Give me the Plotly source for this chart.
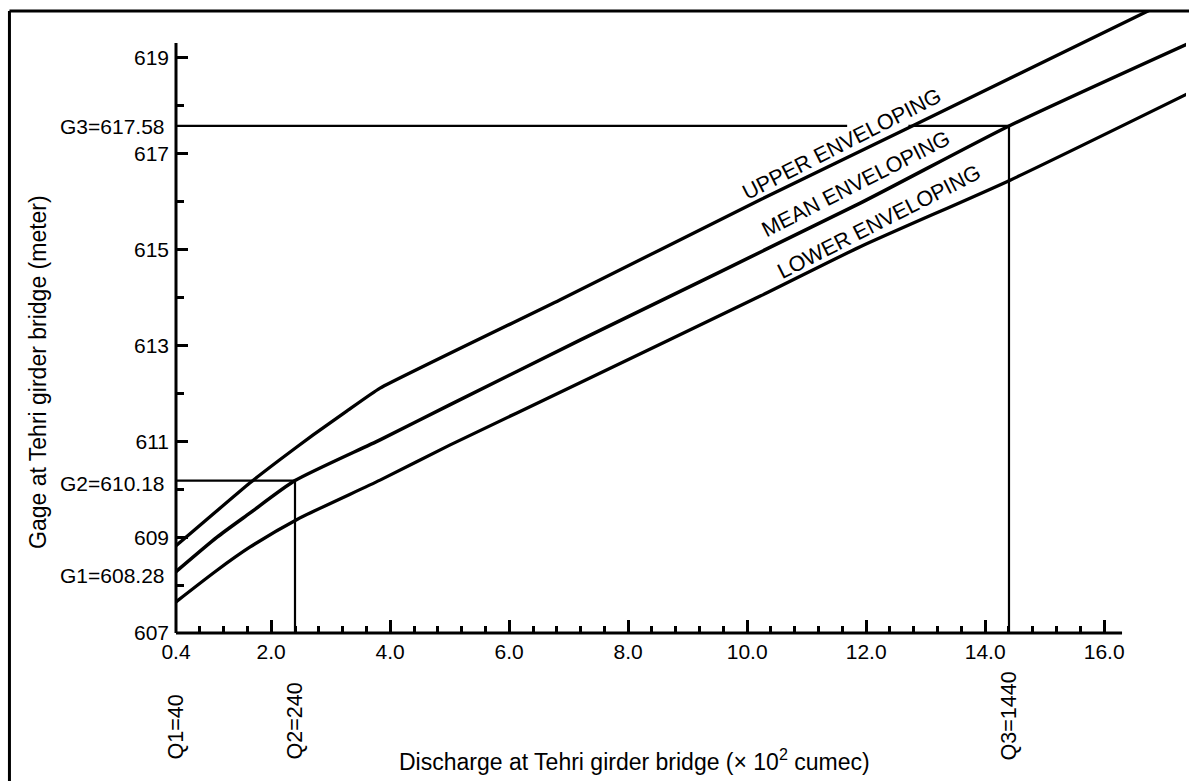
import numpy as np
import plotly.graph_objects as go

# ---- data (discharge in x10^2 cumec, gage in metres) ----
upper_q = [0.40, 1.64, 2.15, 2.70, 3.27, 3.83, 6.85, 10.22, 12.74, 16.77]
upper_g = [608.82, 610.13, 610.62, 611.13, 611.63, 612.11, 613.95, 616.04, 617.56, 620.00]

mean_q = [0.40, 1.09, 1.64, 2.40, 3.83, 5.00, 7.19, 11.90, 14.40, 17.43]
mean_g = [608.28, 609.00, 609.50, 610.18, 611.03, 611.76, 613.11, 615.97, 617.58, 619.31]

lower_q = [0.40, 1.09, 1.64, 2.45, 3.83, 5.00, 7.19, 10.22, 11.90, 14.42, 17.43]
lower_g = [607.65, 608.31, 608.79, 609.38, 610.19, 610.92, 612.22, 614.03, 615.06, 616.45, 618.27]

q_marks = [0.4, 2.4, 14.4]
q_labels = ["Q1=40", "Q2=240", "Q3=1440"]
g_marks = [608.28, 610.18, 617.58]
g_labels = ["G1=608.28", "G2=610.18", "G3=617.58"]
g3_gap = [11.68, 12.71]          # break in the G3 guide (label passes through)

x_tickvals = [0.4, 2, 4, 6, 8, 10, 12, 14, 16]
x_ticktext = ["0.4", "2.0", "4.0", "6.0", "8.0", "10.0", "12.0", "14.0", "16.0"]
x_minor = [v for v in np.round(np.arange(0.8, 16.0, 0.4), 1) if v not in x_tickvals]
y_tickvals = [607, 609, 611, 613, 615, 617, 619]
y_ticktext = [str(v) for v in y_tickvals]
y_minor = [608, 610, 612, 614, 616, 618]

env_labels = ["UPPER ENVELOPING", "MEAN ENVELOPING", "LOWER ENVELOPING"]
env_label_q = [11.60, 11.83, 12.22]
env_label_g = [617.20, 616.37, 615.57]

# ---- layout constants ----
X0, X1 = 0.4, 17.375
Y0, Y1 = 607.0, 620.0
X_AXIS_END = 16.30
Y_AXIS_END = 619.31
FONT = "Liberation Sans, Arial, Helvetica, sans-serif"


def xp(v):
    return (v - X0) / (X1 - X0)


def yp(v):
    return (v - Y0) / (Y1 - Y0)


fig = go.Figure()
fig.add_trace(go.Scatter(x=upper_q, y=upper_g, mode="lines",
                         line=dict(color="black", width=3.3, shape="spline", smoothing=0.4), name="Upper"))
fig.add_trace(go.Scatter(x=mean_q, y=mean_g, mode="lines",
                         line=dict(color="black", width=3.5, shape="spline", smoothing=0.6), name="Mean"))
fig.add_trace(go.Scatter(x=lower_q, y=lower_g, mode="lines",
                         line=dict(color="black", width=3.3, shape="spline", smoothing=0.6), name="Lower"))

guide = dict(color="black", width=2.2)
# G2 / Q2 guide
fig.add_trace(go.Scatter(x=[X0, q_marks[1], q_marks[1]], y=[g_marks[1], g_marks[1], Y0],
                         mode="lines", line=guide))
# G3 / Q3 guide (with a gap where the label crosses)
fig.add_trace(go.Scatter(x=[X0, g3_gap[0]], y=[g_marks[2], g_marks[2]], mode="lines", line=guide))
fig.add_trace(go.Scatter(x=[g3_gap[1], q_marks[2], q_marks[2]], y=[g_marks[2], g_marks[2], Y0],
                         mode="lines", line=guide))

shapes = [
    # axis lines
    dict(type="line", xref="paper", yref="paper", x0=0, x1=xp(X_AXIS_END), y0=0, y1=0,
         line=dict(color="black", width=3)),
    dict(type="line", xref="paper", yref="paper", x0=0, x1=0, y0=0, y1=yp(Y_AXIS_END),
         line=dict(color="black", width=3)),
    # outer frame (left and top)
    dict(type="line", xref="paper", yref="paper", x0=-0.1649, x1=-0.1649, y0=-0.25, y1=0.9984,
         line=dict(color="black", width=3)),
    dict(type="line", xref="paper", yref="paper", x0=-0.1649, x1=1.01, y0=0.9984, y1=0.9984,
         line=dict(color="black", width=3)),
]

annotations = []
for txt, q, g in zip(env_labels, env_label_q, env_label_g):
    annotations.append(dict(x=q, y=g, xref="x", yref="y", text=txt, showarrow=False,
                            textangle=-27, font=dict(size=21.5, color="black", family=FONT)))
for txt, g, dy in zip(g_labels, g_marks, [-4, -3, -1]):
    annotations.append(dict(x=0, y=g, xref="paper", yref="y", text=txt, showarrow=False,
                            xanchor="right", yanchor="middle", xshift=-9, yshift=dy,
                            font=dict(size=21, color="black", family=FONT)))
for txt, q in zip(q_labels, q_marks):
    annotations.append(dict(x=q, y=-0.207, xref="x", yref="paper", text=txt, showarrow=False,
                            textangle=-90, xanchor="center", yanchor="bottom",
                            font=dict(size=21.5, color="black", family=FONT)))
annotations.append(dict(x=0.4535, y=-0.204, xref="paper", yref="paper",
                        text="Discharge at Tehri girder bridge (\u00d7 10<sup>2</sup> cumec)",
                        showarrow=False, xanchor="center", yanchor="middle",
                        font=dict(size=23, color="black", family=FONT)))
annotations.append(dict(x=-0.1366, y=0.419, xref="paper", yref="paper",
                        text="Gage at Tehri girder bridge (meter)", textangle=-90,
                        showarrow=False, xanchor="center", yanchor="middle",
                        font=dict(size=23, color="black", family=FONT)))

fig.update_layout(
    width=1189, height=781,
    margin=dict(l=176, r=3, t=10, b=148, pad=0),
    paper_bgcolor="white", plot_bgcolor="white",
    showlegend=False,
    font=dict(family=FONT, size=21, color="black"),
    shapes=shapes, annotations=annotations,
    xaxis=dict(range=[X0, X1], showgrid=False, zeroline=False, showline=False,
               tickmode="array", tickvals=x_tickvals, ticktext=x_ticktext,
               ticks="inside", ticklen=13, tickwidth=2.5, tickcolor="black",
               ticklabelstandoff=4,
               tickfont=dict(size=21, family=FONT, color="black"),
               minor=dict(tickmode="array", tickvals=x_minor, ticks="inside",
                          ticklen=7, tickwidth=2.5, tickcolor="black")),
    yaxis=dict(range=[Y0, Y1], showgrid=False, zeroline=False, showline=False,
               tickmode="array", tickvals=y_tickvals, ticktext=y_ticktext,
               ticks="inside", ticklen=12, tickwidth=2.5, tickcolor="black",
               ticklabelstandoff=6,
               tickfont=dict(size=21, family=FONT, color="black"),
               minor=dict(tickmode="array", tickvals=y_minor, ticks="inside",
                          ticklen=8, tickwidth=2.5, tickcolor="black")),
)

fig.write_html("out.html")
